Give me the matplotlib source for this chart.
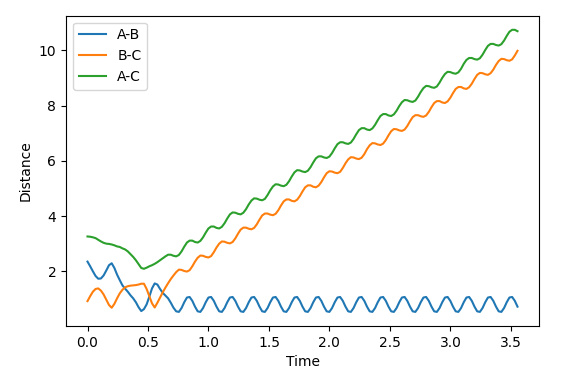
import numpy as np
import matplotlib
matplotlib.use("Agg")
import matplotlib.pyplot as plt

# sampled trajectory, one value every time_step
time_step = 0.022217

ab = [2.35, 2.18, 2.00, 1.83, 1.73, 1.74, 1.85, 2.03, 2.22, 2.29,
      2.12, 1.88, 1.68, 1.49, 1.37, 1.26, 1.13, 1.02, 0.88, 0.70,
      0.56, 0.63, 0.80, 1.08, 1.38, 1.56, 1.52, 1.36, 1.22, 1.12,
      1.02, 0.86, 0.68, 0.55,
      0.53, 0.67, 0.88, 1.05, 1.07, 0.93, 0.72, 0.55,
      0.53, 0.67, 0.88, 1.05, 1.07, 0.93, 0.72, 0.55,
      0.53, 0.67, 0.88, 1.05, 1.07, 0.93, 0.72, 0.55,
      0.53, 0.67, 0.88, 1.05, 1.07, 0.93, 0.72, 0.55,
      0.53, 0.67, 0.88, 1.05, 1.07, 0.93, 0.72, 0.55,
      0.53, 0.67, 0.88, 1.05, 1.07, 0.93, 0.72, 0.55,
      0.53, 0.67, 0.88, 1.05, 1.07, 0.93, 0.72, 0.55,
      0.53, 0.67, 0.88, 1.05, 1.07, 0.93, 0.72, 0.55,
      0.53, 0.67, 0.88, 1.05, 1.07, 0.93, 0.72, 0.55,
      0.53, 0.67, 0.88, 1.05, 1.07, 0.93, 0.72, 0.55,
      0.53, 0.67, 0.88, 1.05, 1.07, 0.93, 0.72, 0.55,
      0.53, 0.67, 0.88, 1.05, 1.07, 0.93, 0.72, 0.55,
      0.53, 0.67, 0.88, 1.05, 1.07, 0.93, 0.72, 0.55,
      0.53, 0.67, 0.88, 1.05, 1.07, 0.93, 0.72, 0.55,
      0.53, 0.67, 0.88, 1.05, 1.07, 0.93, 0.72, 0.55,
      0.53, 0.67, 0.88, 1.05, 1.07, 0.93, 0.72]

bc = [0.92, 1.10, 1.26, 1.36, 1.38, 1.30, 1.16, 0.97, 0.78, 0.68,
      0.82, 1.02, 1.20, 1.33, 1.42, 1.46, 1.48, 1.49, 1.50, 1.52,
      1.55, 1.55, 1.36, 1.10, 0.84, 0.69, 0.86, 1.05, 1.24, 1.41,
      1.57, 1.72, 1.85, 1.97,
      2.06, 2.05, 2.01, 1.99, 2.04, 2.18, 2.35, 2.49,
      2.57, 2.56, 2.52, 2.50, 2.55, 2.69, 2.86, 3.00,
      3.08, 3.07, 3.03, 3.01, 3.06, 3.19, 3.36, 3.51,
      3.58, 3.58, 3.54, 3.52, 3.57, 3.70, 3.87, 4.02,
      4.09, 4.09, 4.05, 4.03, 4.08, 4.21, 4.38, 4.53,
      4.60, 4.60, 4.55, 4.53, 4.59, 4.72, 4.89, 5.04,
      5.11, 5.11, 5.06, 5.04, 5.10, 5.23, 5.40, 5.55,
      5.62, 5.61, 5.57, 5.55, 5.60, 5.74, 5.91, 6.05,
      6.13, 6.12, 6.08, 6.06, 6.11, 6.24, 6.42, 6.56,
      6.64, 6.63, 6.59, 6.57, 6.62, 6.75, 6.92, 7.07,
      7.15, 7.14, 7.10, 7.08, 7.13, 7.26, 7.43, 7.58,
      7.65, 7.65, 7.61, 7.59, 7.64, 7.77, 7.94, 8.09,
      8.16, 8.16, 8.11, 8.09, 8.15, 8.28, 8.45, 8.60,
      8.67, 8.67, 8.62, 8.60, 8.66, 8.79, 8.96, 9.11,
      9.18, 9.17, 9.13, 9.11, 9.17, 9.30, 9.47, 9.61,
      9.69, 9.68, 9.64, 9.62, 9.67, 9.81, 9.98]

ac = [3.26, 3.25, 3.23, 3.20, 3.14, 3.08, 3.03, 3.00, 2.99, 2.97,
      2.94, 2.90, 2.88, 2.83, 2.79, 2.72, 2.62, 2.52, 2.40, 2.26,
      2.12, 2.09, 2.13, 2.18, 2.22, 2.27, 2.33, 2.40, 2.47, 2.54,
      2.60, 2.60, 2.56, 2.54,
      2.59, 2.72, 2.89, 3.04, 3.11, 3.11, 3.06, 3.04,
      3.10, 3.23, 3.40, 3.55, 3.62, 3.62, 3.57, 3.55,
      3.61, 3.74, 3.91, 4.06, 4.13, 4.12, 4.08, 4.06,
      4.12, 4.25, 4.42, 4.56, 4.64, 4.63, 4.59, 4.57,
      4.62, 4.76, 4.93, 5.07, 5.15, 5.14, 5.10, 5.08,
      5.13, 5.26, 5.43, 5.58, 5.66, 5.65, 5.61, 5.59,
      5.64, 5.77, 5.94, 6.09, 6.16, 6.16, 6.12, 6.10,
      6.15, 6.28, 6.45, 6.60, 6.67, 6.67, 6.63, 6.61,
      6.66, 6.79, 6.96, 7.11, 7.18, 7.18, 7.13, 7.11,
      7.17, 7.30, 7.47, 7.62, 7.69, 7.69, 7.64, 7.62,
      7.68, 7.81, 7.98, 8.12, 8.20, 8.19, 8.15, 8.13,
      8.18, 8.32, 8.49, 8.63, 8.71, 8.70, 8.66, 8.64,
      8.69, 8.83, 9.00, 9.14, 9.22, 9.21, 9.17, 9.15,
      9.20, 9.33, 9.51, 9.65, 9.72, 9.72, 9.68, 9.66,
      9.71, 9.84, 10.01, 10.16, 10.23, 10.23, 10.19, 10.17,
      10.22, 10.35, 10.52, 10.67, 10.74, 10.74, 10.69]

time = np.arange(len(ab)) * time_step

fig = plt.figure(figsize=(5.81, 3.69), dpi=100)
ax = fig.add_axes([66 / 581, 1 - 326 / 369, 473 / 581, 310.3 / 369])

ax.plot(time, ab, label='A-B')
ax.plot(time, bc, label='B-C')
ax.plot(time, ac, label='A-C')
ax.set_xlabel('Time')
ax.set_ylabel('Distance')
ax.legend()

fig.savefig('out.png', dpi=100)
